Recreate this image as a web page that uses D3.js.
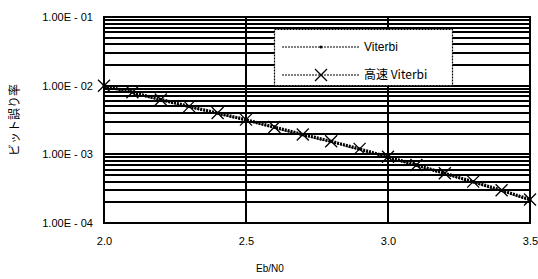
<!DOCTYPE html>
<html lang="ja">
<head>
<meta charset="utf-8">
<script src="https://d3js.org/d3.v7.min.js"></script>
<style>
  body { margin: 0; background: #fff; }
  text { font-family: "Liberation Sans", Arial, sans-serif; fill: #000; }
</style>
</head>
<body>
<div id="main"></div>
<script>
  var ebn0 = [2.0, 2.1, 2.2, 2.3, 2.4, 2.5, 2.6, 2.7, 2.8, 2.9, 3.0, 3.1, 3.2, 3.3, 3.4, 3.5]
  var viterbi = [1.0e-2, 8.0e-3, 6.3e-3, 5.0e-3, 4.0e-3, 3.2e-3, 2.5e-3, 1.95e-3, 1.55e-3, 1.2e-3, 9.2e-4, 7.0e-4, 5.3e-4, 4.0e-4, 3.0e-4, 2.2e-4]
  var fastViterbi = [1.0e-2, 8.0e-3, 6.3e-3, 5.0e-3, 4.0e-3, 3.2e-3, 2.5e-3, 1.95e-3, 1.55e-3, 1.2e-3, 9.2e-4, 7.0e-4, 5.3e-4, 4.0e-4, 3.0e-4, 2.2e-4]
  var xTicks = [2.0, 2.5, 3.0, 3.5]
  var yTicks = [1e-1, 1e-2, 1e-3, 1e-4]
  var seriesNames = ["Viterbi", "高速 Viterbi"]

  var width = 538, height = 279
  var svg = d3.select("#main").append("svg")
    .attr("width", width)
    .attr("height", height)

  var x = d3.scaleLinear().domain([2.0, 3.5]).range([104, 530])
  var y = d3.scaleLog().domain([1e-4, 1e-1]).range([223, 17])

  // horizontal grid at every minor step
  var minor = []
  for (var e = -4; e < -1; e++) {
    for (var m = 2; m <= 9; m++) minor.push(m * Math.pow(10, e))
  }
  svg.append("g").attr("shape-rendering", "crispEdges").selectAll("line")
    .data(minor.concat(yTicks))
    .enter().append("line")
    .attr("x1", x.range()[0]).attr("x2", x.range()[1])
    .attr("y1", function(d) { return Math.round(y(d)) })
    .attr("y2", function(d) { return Math.round(y(d)) })
    .attr("stroke", "#000").attr("stroke-width", 2)

  svg.append("g").attr("shape-rendering", "crispEdges").selectAll("line")
    .data(xTicks.slice(1, -1))
    .enter().append("line")
    .attr("x1", function(d) { return Math.round(x(d)) })
    .attr("x2", function(d) { return Math.round(x(d)) })
    .attr("y1", y.range()[1]).attr("y2", y.range()[0])
    .attr("stroke", "#000").attr("stroke-width", 2)

  svg.append("rect")
    .attr("x", 104).attr("y", 17)
    .attr("width", 530 - 104).attr("height", 223 - 17)
    .attr("fill", "none").attr("stroke", "#000").attr("stroke-width", 2)
    .attr("shape-rendering", "crispEdges")

  // axes
  var yAxis = svg.append("g")
    .attr("transform", "translate(" + x.range()[0] + ",0)")
    .call(d3.axisLeft(y).tickValues(yTicks).tickSize(0).tickPadding(11)
      .tickFormat(function(d) {
        var ex = Math.round(Math.log10(d))
        return "1.00E - " + ("0" + (-ex)).slice(-2)
      }))
  yAxis.select(".domain").remove()
  yAxis.selectAll("text").style("font-size", "11px").attr("font-family", null)

  var xAxis = svg.append("g")
    .attr("transform", "translate(0," + y.range()[0] + ")")
    .call(d3.axisBottom(x).tickValues(xTicks).tickSize(0).tickPadding(14)
      .tickFormat(d3.format(".1f")))
  xAxis.select(".domain").remove()
  xAxis.selectAll("text").style("font-size", "11px").attr("font-family", null)

  svg.append("text")
    .attr("x", 270).attr("y", 272)
    .attr("text-anchor", "middle")
    .style("font-size", "10px")
    .text("Eb/N0")

  svg.append("text")
    .attr("transform", "translate(19,120) rotate(-90)")
    .attr("text-anchor", "middle")
    .style("font-size", "12px")
    .style("font-family", "'Noto Sans CJK JP', sans-serif")
    .text("ビット誤り率")

  // series
  var line = d3.line()
    .x(function(d) { return x(d[0]) })
    .y(function(d) { return y(d[1]) })

  var fastData = ebn0.map(function(d, i) { return [d, fastViterbi[i]] })
  var vitData = ebn0.map(function(d, i) { return [d, viterbi[i]] })

  svg.append("path").datum(fastData)
    .attr("d", line).attr("fill", "none")
    .attr("stroke", "#000").attr("stroke-width", 3)
    .attr("stroke-dasharray", "2,1")
  svg.append("path").datum(vitData)
    .attr("d", line).attr("fill", "none")
    .attr("stroke", "#000").attr("stroke-width", 1.5)
    .attr("stroke-dasharray", "2,1")
    .attr("transform", "translate(0,1)")

  function cross(sel, s) {
    sel.append("path")
      .attr("d", "M" + (-s) + "," + (-s) + "L" + s + "," + s + "M" + (-s) + "," + s + "L" + s + "," + (-s))
      .attr("stroke", "#000").attr("stroke-width", 1.3).attr("fill", "none")
  }

  svg.append("g").selectAll("circle")
    .data(vitData).enter().append("circle")
    .attr("cx", function(d) { return x(d[0]) })
    .attr("cy", function(d) { return y(d[1]) })
    .attr("r", 1.5).attr("fill", "#000")

  svg.append("g").selectAll("g")
    .data(fastData).enter().append("g")
    .attr("transform", function(d) { return "translate(" + x(d[0]) + "," + y(d[1]) + ")" })
    .each(function() { cross(d3.select(this), 6) })

  // legend
  var lg = svg.append("g")
  lg.append("rect")
    .attr("x", 274.5).attr("y", 29.5).attr("width", 178).attr("height", 56)
    .attr("fill", "#fff").attr("stroke", "#000").attr("stroke-width", 1.2)
    .attr("stroke-dasharray", "2,1")

  seriesNames.forEach(function(name, i) {
    var ly = 47 + i * 28
    lg.append("line")
      .attr("x1", 282).attr("x2", 360).attr("y1", ly).attr("y2", ly)
      .attr("stroke", "#000").attr("stroke-width", 1.2).attr("stroke-dasharray", "2,1")
    if (i == 0) {
      lg.append("circle").attr("cx", 321).attr("cy", ly).attr("r", 1.5).attr("fill", "#000")
    } else {
      var mk = lg.append("g").attr("transform", "translate(321," + ly + ")")
      cross(mk, 6)
    }
    lg.append("text")
      .attr("x", 364).attr("y", ly + 4)
      .style("font-size", "12px")
      .style("font-family", i == 1 ? "'Noto Sans CJK JP', 'Liberation Sans', sans-serif" : null)
      .text(name)
  })
</script>
</body>
</html>
